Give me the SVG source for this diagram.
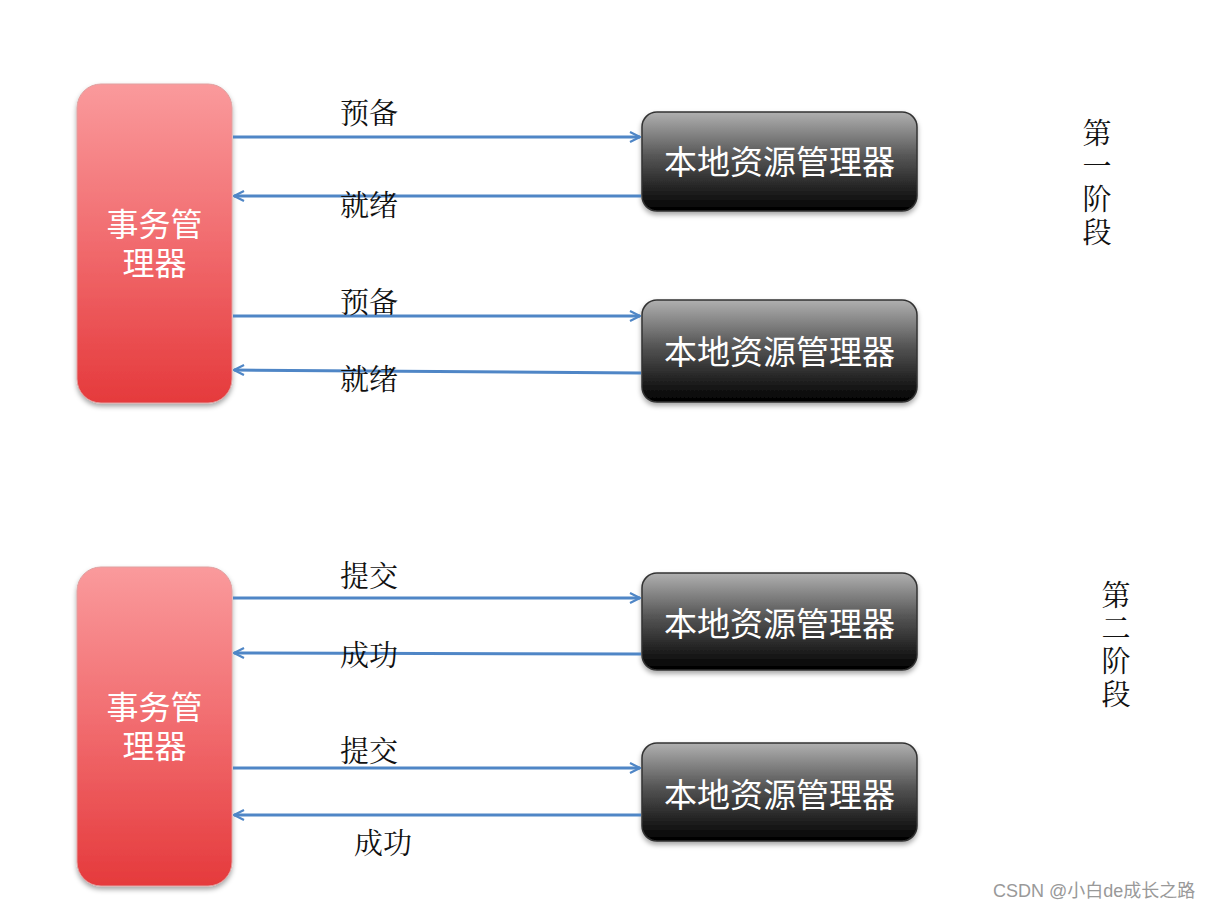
<svg xmlns="http://www.w3.org/2000/svg" width="1221" height="911" viewBox="0 0 1221 911">
<defs>
<linearGradient id="gRed" x1="0" y1="0" x2="0" y2="1">
<stop offset="0" stop-color="#fa9a9c"/>
<stop offset="0.5" stop-color="#f16b6e"/>
<stop offset="1" stop-color="#e53a3c"/>
</linearGradient>
<linearGradient id="gBlack" x1="0" y1="0" x2="0" y2="1">
<stop offset="0" stop-color="#b0b0b0"/>
<stop offset="0.45" stop-color="#555"/>
<stop offset="1" stop-color="#000"/>
</linearGradient>
<filter id="sh" x="-20%" y="-20%" width="140%" height="140%">
<feDropShadow dx="0" dy="3" stdDeviation="2.5" flood-color="#000" flood-opacity="0.35"/>
</filter>
<marker id="ah" viewBox="0 0 12 12" refX="11" refY="6" markerWidth="12" markerHeight="12" markerUnits="userSpaceOnUse" orient="auto">
<path d="M1,1 L11,6 L1,11" fill="none" stroke="#4f86c6" stroke-width="2.2"/>
</marker>
</defs>
<style>
.tm{fill:url(#gRed);stroke:#e0a0a0;stroke-width:1;filter:url(#sh)}
.rm{fill:url(#gBlack);stroke:#333;stroke-width:1.5;filter:url(#sh)}
.wt{font-family:"Noto Sans CJK SC",sans-serif;fill:#fff;font-size:33px;text-anchor:middle}
.wt2{font-family:"Liberation Sans","Noto Sans CJK SC",sans-serif;fill:#fff;font-size:32px;text-anchor:middle}
.lb{font-family:"Noto Serif CJK SC","Noto Sans CJK SC",serif;fill:#111;font-size:29px}
.ph{font-family:"Noto Serif CJK SC","Noto Sans CJK SC",serif;fill:#111;font-size:29px;writing-mode:vertical-rl;letter-spacing:4px}
.ar{stroke:#4f86c6;stroke-width:3;fill:none;marker-end:url(#ah)}
</style>
<rect width="1221" height="911" fill="#fff"/>
<g id="tm1"><rect class="tm" x="77" y="84" width="155" height="319" rx="24"/>
<text class="wt2" x="154.5" y="236">事务管</text><text class="wt2" x="154.5" y="275">理器</text></g>
<g id="tm2"><rect class="tm" x="77" y="567" width="155" height="319" rx="24"/>
<text class="wt2" x="154.5" y="719">事务管</text><text class="wt2" x="154.5" y="758">理器</text></g>
<g id="rm1"><rect class="rm" x="642" y="112" width="275" height="99" rx="15"/><text class="wt" x="779.5" y="174">本地资源管理器</text></g>
<g id="rm2"><rect class="rm" x="642" y="300" width="275" height="102" rx="15"/><text class="wt" x="779.5" y="364">本地资源管理器</text></g>
<g id="rm3"><rect class="rm" x="642" y="573" width="275" height="97" rx="15"/><text class="wt" x="779.5" y="636">本地资源管理器</text></g>
<g id="rm4"><rect class="rm" x="642" y="743" width="275" height="98" rx="15"/><text class="wt" x="779.5" y="807">本地资源管理器</text></g>
<g id="connectors">
<line class="ar" x1="233" y1="137" x2="640" y2="137"/>
<line class="ar" x1="641" y1="196" x2="234" y2="196"/>
<line class="ar" x1="233" y1="316" x2="640" y2="316"/>
<line class="ar" x1="641" y1="373" x2="234" y2="370"/>
<line class="ar" x1="233" y1="598" x2="640" y2="598"/>
<line class="ar" x1="641" y1="654" x2="234" y2="653"/>
<line class="ar" x1="233" y1="768" x2="640" y2="768"/>
<line class="ar" x1="641" y1="815" x2="234" y2="815"/>
</g>
<g id="labels">
<text class="lb" x="340" y="124">预备</text>
<text class="lb" x="340" y="216">就绪</text>
<text class="lb" x="340" y="313">预备</text>
<text class="lb" x="340" y="390">就绪</text>
<text class="lb" x="340" y="587">提交</text>
<text class="lb" x="340" y="666">成功</text>
<text class="lb" x="340" y="762">提交</text>
<text class="lb" x="354" y="854">成功</text>
</g>
<g id="phase1"><text class="ph" x="1097" y="118">第一阶段</text></g>
<g id="phase2"><text class="ph" x="1116" y="580">第二阶段</text></g>
<text x="993" y="897" font-family="'Liberation Sans','Noto Sans CJK SC',sans-serif" font-size="18" fill="#999">CSDN @小白de成长之路</text>
</svg>
